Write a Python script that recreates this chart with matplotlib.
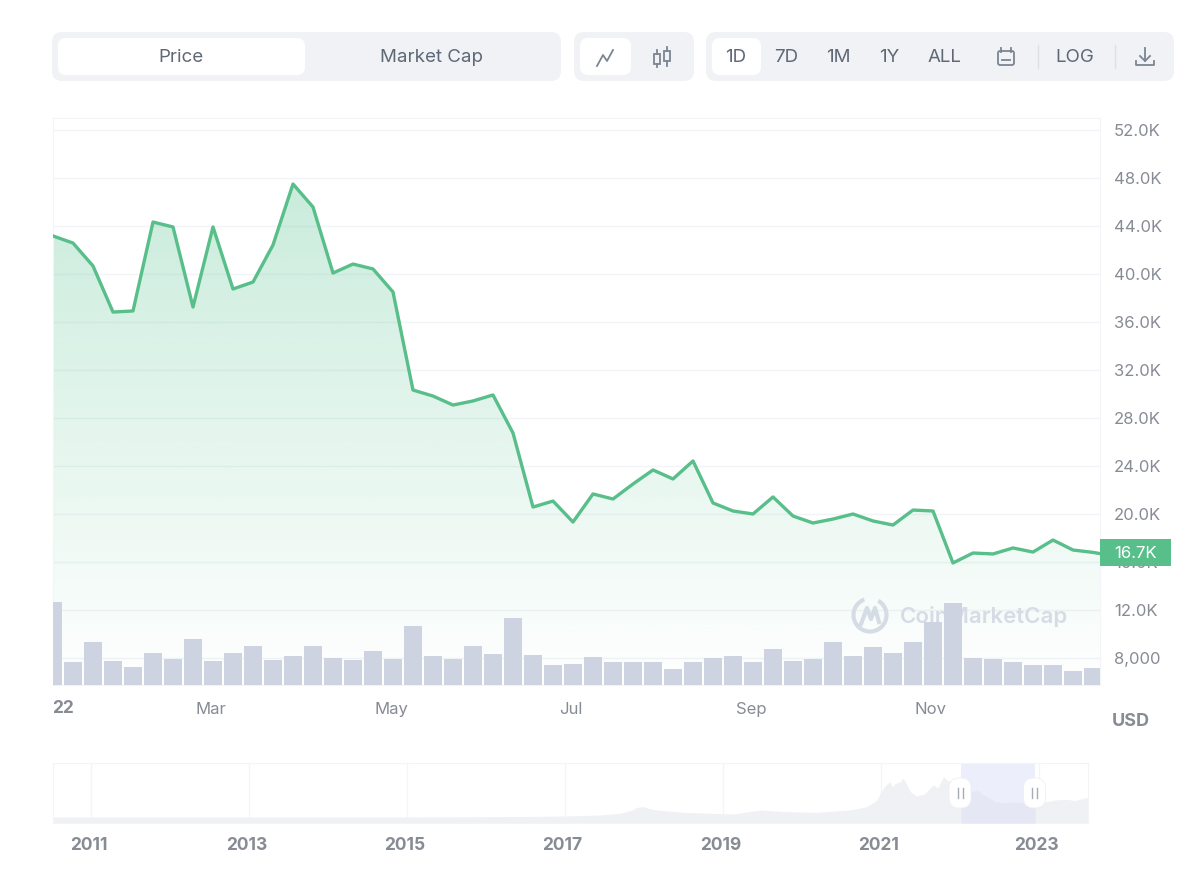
import numpy as np
import matplotlib
matplotlib.use("Agg")
import matplotlib.pyplot as plt
from matplotlib.patches import FancyBboxPatch, Rectangle, Arc, Polygon

plt.rcParams['font.family'] = ['Inter', 'DejaVu Sans']

# weekly closes, last entry is the current price
price = [43170, 42580, 40670, 36830, 36920, 44330, 43920, 37250, 43920, 38750,
         39330, 42420, 47500, 45580, 40080, 40830, 40420, 38500, 30330, 29830,
         29080, 29420, 29920, 26750, 20580, 21080, 19330, 21670, 21250, 22500,
         23670, 22920, 24420, 20920, 20250, 20000, 21420, 19830, 19250, 19580,
         20000, 19420, 19080, 20330, 20250, 15920, 16750, 16670, 17170, 16830,
         17830, 17000, 16800, 16700]
weeks = list(range(53)) + [52.35]

# volume has no printed scale, so relative units
volume = [83, 23, 43, 24, 18, 32, 26, 46, 24, 32,
          39, 25, 29, 39, 27, 25, 34, 26, 59, 29,
          26, 39, 31, 67, 30, 20, 21, 28, 23, 23,
          23, 16, 23, 27, 29, 23, 36, 24, 26, 43,
          29, 38, 32, 43, 63, 82, 27, 26, 23, 20,
          20, 14, 17]

price_ticks = [8000, 12000, 16000, 20000, 24000, 28000, 32000, 36000, 40000, 44000, 48000, 52000]
price_labels = ['8,000', '12.0K', '16.0K', '20.0K', '24.0K', '28.0K', '32.0K', '36.0K', '40.0K', '44.0K', '48.0K', '52.0K']
month_ticks = [7.9, 16.9, 25.9, 34.9, 43.9]
month_labels = ['Mar', 'May', 'Jul', 'Sep', 'Nov']

# overview strip along the bottom
nav_years = [2010.52, 2013, 2015, 2016.5, 2017, 2017.44, 2017.70, 2017.85, 2017.91, 2017.99, 2018.08, 2018.16,
             2018.50, 2018.84, 2019.13, 2019.3, 2019.47, 2019.81, 2020.19, 2020.61, 2020.82, 2020.95, 2021.0, 2021.05,
             2021.11, 2021.15, 2021.18, 2021.24, 2021.28, 2021.33, 2021.37, 2021.45, 2021.54, 2021.6, 2021.66, 2021.72,
             2021.79, 2021.85, 2021.92, 2022.04, 2022.12, 2022.21, 2022.3, 2022.38, 2022.45, 2022.55, 2022.7, 2022.93,
             2023.03, 2023.10, 2023.2, 2023.35, 2023.45, 2023.62]
nav_values = [6, 6, 6, 6.5, 7, 8, 9.7, 13, 15.7, 16.3, 14, 13,
              10.7, 9.7, 9, 11, 13, 11.3, 10.7, 13, 16.3, 23, 31.3, 37,
              41.3, 36, 39.7, 41, 44.7, 38, 31.3, 27, 28.7, 33, 38, 35,
              46.3, 42, 43, 36.3, 31, 33, 28, 24.7, 21, 20.3, 21, 19.7,
              21, 21.3, 23, 23.7, 22.5, 25.7]
nav_ticks = [2011, 2013, 2015, 2017, 2019, 2021, 2023]
selected = (2022.01, 2022.95)

GREEN = '#58be8a'
GRID = '#f2f4f7'
TXT = '#5f6876'
LABEL = '#878b94'
W, H = 1200, 871


def px_axes(fig, x0, y0, x1, y1):
    return fig.add_axes([x0 / W, 1 - y1 / H, (x1 - x0) / W, (y1 - y0) / H])


fig = plt.figure(figsize=(12, 8.71), dpi=100)

# overlay in pixel coords for the toolbar and labels
ui = fig.add_axes([0, 0, 1, 1], zorder=10)
ui.set_xlim(0, W)
ui.set_ylim(H, 0)
ui.axis('off')
ui.patch.set_alpha(0)

ax = px_axes(fig, 53, 118, 1100, 685)
ax.set_xlim(0, 52.35)
ax.set_ylim(5750, 53000)
ax.grid(axis='y', color=GRID, lw=1)
ax.set_axisbelow(True)
for s in ax.spines.values():
    s.set_color(GRID)

# green fade under the line
grad = np.zeros((256, 1, 4))
grad[:, 0, :3] = matplotlib.colors.to_rgb('#4cc08a')
grad[:, 0, 3] = np.linspace(0.3, 0.0, 256)
im = ax.imshow(grad, extent=(0, 52.35, 5750, 47500), aspect='auto', zorder=1, origin='upper')
ax.set_xlim(0, 52.35)
ax.set_ylim(5750, 53000)
poly = Polygon(list(zip(weeks, price)) + [(52.35, 5750), (0, 5750)], closed=True, transform=ax.transData, fc='none', ec='none')
ax.add_patch(poly)
im.set_clip_path(poly)
ax.plot(weeks, price, color=GREEN, lw=2.4, zorder=3, solid_joinstyle='round')

# watermark sits under the bars
mark = '#d6dce5'
ax.text(900, 616, 'CoinMarketCap', transform=ui.transData, fontsize=16, fontweight='semibold', color=mark, va='center', ha='left', zorder=2)
ax.add_patch(Arc((870, 615), 33, 33, theta1=-60, theta2=250, transform=ui.transData, color=mark, lw=3, zorder=2))
ax.plot([861, 867, 871, 875, 879], [624, 608, 619, 608, 622], transform=ui.transData, color=mark, lw=3, zorder=2)

vol_ax = ax.twinx()
vol_ax.set_ylim(0, 567)
vol_ax.set_yticks([])
vol_ax.bar(range(len(volume)), volume, width=0.9, color='#cdd3e0')
for s in vol_ax.spines.values():
    s.set_visible(False)

# twinx flips the price ticks to the left, so set them afterwards
ax.yaxis.tick_right()
ax.set_yticks(price_ticks)
ax.set_yticklabels(price_labels, fontsize=12, color=LABEL)
ax.set_xticks(month_ticks)
ax.set_xticklabels(month_labels, fontsize=12, color=LABEL)
ax.tick_params(axis='y', length=0, pad=10)
ax.tick_params(axis='x', length=0, pad=12)

ui.text(52, 708, '22', fontsize=12.5, fontweight='bold', color=LABEL, ha='left', va='center')
ui.text(1131, 721, 'USD', fontsize=13, fontweight='bold', color=LABEL, ha='center', va='center')
ui.add_patch(Rectangle((1100, 539), 71, 27, fc=GREEN, ec='none'))
ui.text(1135.5, 553, '16.7K', fontsize=12, color='white', ha='center', va='center')

# overview strip
nav = px_axes(fig, 53, 763, 1088, 823)
nav.set_xlim(2010.52, 2023.62)
nav.set_ylim(0, 60)
nav.axvspan(selected[0], selected[1], color='#eceefb', lw=0, zorder=1)
nav.fill_between(nav_years, nav_values, color='#f0f1f4', lw=0, zorder=2)
sel = [(y, v) for y, v in zip(nav_years, nav_values) if selected[0] <= y <= selected[1]]
sel_x = [selected[0]] + [p[0] for p in sel] + [selected[1]]
sel_y = list(np.interp(sel_x, nav_years, nav_values))
nav.fill_between(sel_x, sel_y, color='#e5e7f5', lw=0, zorder=3)
nav.set_xticks(nav_ticks)
nav.set_xticklabels([])
nav.set_yticks([])
nav.tick_params(axis='x', length=0)
nav.grid(axis='x', color='#f4f5f7', lw=1)
nav.set_axisbelow(True)
for s in nav.spines.values():
    s.set_color(GRID)
# labels sit a touch left of the gridlines
for y in nav_ticks:
    nav.text(y - 0.03, -0.367, str(y), transform=nav.get_xaxis_transform(), fontsize=12.5, fontweight='bold',
             color=LABEL, ha='center', va='center')

for hx in [960, 1034.5]:
    ui.add_patch(FancyBboxPatch((hx - 10, 779), 20, 28, boxstyle='round,pad=1,rounding_size=10', fc='white', ec='#eef0f3', lw=0.6))
    ui.plot([hx - 2.5, hx - 2.5], [788, 798], color='#a6abb5', lw=1)
    ui.plot([hx + 2.5, hx + 2.5], [788, 798], color='#a6abb5', lw=1)


def panel(x0, y0, x1, y1, color, r):
    ui.add_patch(FancyBboxPatch((x0 + r, y0 + r), x1 - x0 - 2 * r, y1 - y0 - 2 * r,
                                boxstyle='round,pad=%d,rounding_size=%d' % (r, r), fc=color, ec='none'))


# toolbar
for x0, x1 in [(52, 561), (574, 694), (706, 1174)]:
    panel(x0, 32, x1, 81, '#f0f2f6', 10)
for x0, x1 in [(58, 305), (580, 631), (712, 761)]:
    panel(x0, 38, x1, 75, 'white', 8)

for s, x in [('Price', 181), ('Market Cap', 432), ('1D', 736), ('7D', 786), ('1M', 838), ('1Y', 889), ('ALL', 944), ('LOG', 1075)]:
    ui.text(x, 57.5, s, fontsize=13.5, color=TXT, ha='center', va='center')

icon = '#7c8594'
ui.plot([597, 603, 607, 613], [66, 55, 61, 50], color=icon, lw=1.3)
for x, top, bot, y0, y1 in [(657, 50, 67, 54, 64), (667, 47, 66, 51, 61)]:
    ui.plot([x, x], [top, y0], color=icon, lw=1.3)
    ui.plot([x, x], [y1, bot], color=icon, lw=1.3)
    ui.add_patch(Rectangle((x - 3, y0), 6, y1 - y0, fc='none', ec=icon, lw=1.3))
ui.add_patch(FancyBboxPatch((998, 51), 16, 14, boxstyle='round,pad=0,rounding_size=2', fc='none', ec=icon, lw=1.3))
ui.plot([1002, 1010], [60, 60], color=icon, lw=1.3)
ui.plot([1001, 1001], [48, 52], color=icon, lw=1.3)
ui.plot([1011, 1011], [48, 52], color=icon, lw=1.3)
for x in [1038, 1115]:
    ui.plot([x, x], [45, 68], color='#dcdfe5', lw=1)
ui.plot([1145, 1145], [48, 61], color=icon, lw=1.3)
ui.plot([1140, 1145, 1150], [56, 61, 56], color=icon, lw=1.3)
ui.plot([1136, 1136, 1154, 1154], [61, 65.5, 65.5, 61], color=icon, lw=1.3)

fig.savefig('out.png', dpi=100)
